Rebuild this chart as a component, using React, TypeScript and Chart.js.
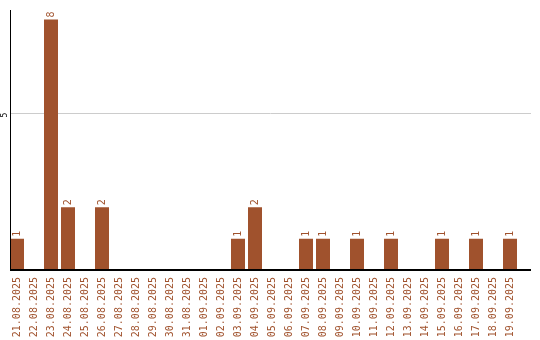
import React, { useEffect, useRef } from "react";
import { Chart, registerables } from "chart.js";

Chart.register(...registerables);

const dates: string[] = [
  "21.08.2025", "22.08.2025", "23.08.2025", "24.08.2025", "25.08.2025",
  "26.08.2025", "27.08.2025", "28.08.2025", "29.08.2025", "30.08.2025",
  "31.08.2025", "01.09.2025", "02.09.2025", "03.09.2025", "04.09.2025",
  "05.09.2025", "06.09.2025", "07.09.2025", "08.09.2025", "09.09.2025",
  "10.09.2025", "11.09.2025", "12.09.2025", "13.09.2025", "14.09.2025",
  "15.09.2025", "16.09.2025", "17.09.2025", "18.09.2025", "19.09.2025",
];

const counts: number[] = [
  1, 0, 8, 2, 0, 2, 0, 0, 0, 0,
  0, 0, 0, 1, 2, 0, 0, 1, 1, 0,
  1, 0, 1, 0, 0, 1, 0, 1, 0, 1,
];

const yTickValues: number[] = [5];
const yMax = 8.3;

const BROWN = "#a0522d";
const MONO = "'DejaVu Sans Mono', monospace";

// Axis lines, the single grid line, the y tick label and the value labels
const decorations = {
  id: "decorations",
  beforeDatasetsDraw(chart: any) {
    const { ctx } = chart;
    const y = chart.scales.y;
    const left = 10;
    const right = 530;
    ctx.save();
    ctx.strokeStyle = "#cccccc";
    ctx.lineWidth = 1;
    for (const v of yTickValues) {
      const py = Math.round(y.getPixelForValue(v)) + 0.5;
      ctx.beginPath();
      ctx.moveTo(left, py);
      ctx.lineTo(right + 1, py);
      ctx.stroke();
      ctx.save();
      ctx.translate(4.5, py + 1.5);
      ctx.rotate(-Math.PI / 2);
      ctx.fillStyle = "#000";
      ctx.font = `8px ${MONO}`;
      ctx.textAlign = "center";
      ctx.textBaseline = "middle";
      ctx.fillText(String(v), 0, 0);
      ctx.restore();
    }
    ctx.restore();
  },
  afterDatasetsDraw(chart: any) {
    const { ctx, chartArea } = chart;
    const y = chart.scales.y;
    const left = 10;
    const right = 530;
    const base = Math.round(y.getPixelForValue(0));
    ctx.save();
    ctx.strokeStyle = "#000";
    ctx.lineWidth = 1;
    ctx.beginPath();
    ctx.moveTo(left + 0.5, chartArea.top);
    ctx.lineTo(left + 0.5, base);
    ctx.stroke();
    ctx.lineWidth = 2;
    ctx.beginPath();
    ctx.moveTo(left, base);
    ctx.lineTo(right + 1, base);
    ctx.stroke();

    const meta = chart.getDatasetMeta(0);
    ctx.fillStyle = BROWN;
    ctx.font = `10px ${MONO}`;
    ctx.textAlign = "left";
    ctx.textBaseline = "middle";
    meta.data.forEach((bar: any, i: number) => {
      const v = counts[i];
      if (!v) return;
      ctx.save();
      ctx.translate(bar.x + 0.5, bar.y - 2);
      ctx.rotate(-Math.PI / 2);
      ctx.fillText(String(v), 0, 0);
      ctx.restore();
    });
    ctx.restore();
  },
};

export default function App() {
  const canvasRef = useRef<HTMLCanvasElement | null>(null);

  useEffect(() => {
    if (!canvasRef.current) return;
    const chart = new Chart(canvasRef.current, {
      type: "bar",
      data: {
        labels: dates,
        datasets: [
          {
            data: counts,
            backgroundColor: BROWN,
            borderWidth: 0,
            categoryPercentage: 1,
            barPercentage: 14 / 17,
          },
        ],
      },
      options: {
        responsive: false,
        animation: false,
        layout: { padding: { top: 10, right: 21.5, bottom: 0, left: 0 } },
        plugins: {
          legend: { display: false },
          tooltip: { enabled: false },
        },
        scales: {
          x: {
            offset: true,
            grid: { display: false, drawTicks: false },
            border: { display: false },
            ticks: {
              autoSkip: false,
              minRotation: 90,
              maxRotation: 90,
              padding: 7,
              color: BROWN,
              font: { family: MONO, size: 10 },
            },
            afterFit(scale: any) {
              scale.height = 70;
            },
          },
          y: {
            min: 0,
            max: yMax,
            grid: { display: false },
            border: { display: false },
            ticks: { display: false },
            afterBuildTicks(scale: any) {
              scale.ticks = yTickValues.map((v) => ({ value: v }));
            },
            afterFit(scale: any) {
              scale.width = 8.5;
            },
          },
        },
      },
      plugins: [decorations],
    });
    return () => chart.destroy();
  }, []);

  return (
    <div style={{ position: "absolute", left: 0, top: 0, width: 540, height: 340, background: "#fff" }}>
      <canvas ref={canvasRef} width={540} height={340} />
    </div>
  );
}
